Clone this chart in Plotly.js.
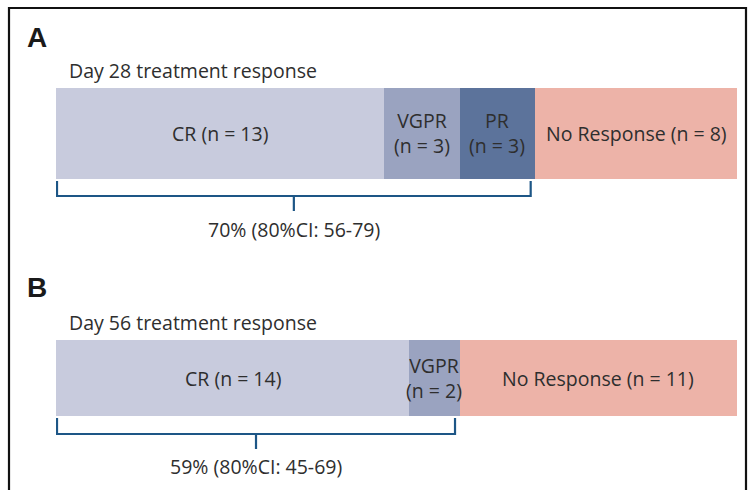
<!DOCTYPE html>
<html><head><meta charset="utf-8">
<script src="https://cdn.plot.ly/plotly-3.0.1.min.js"></script>
<style>html,body{margin:0;padding:0;background:#fff}#chart{width:752px;height:490px}</style>
</head><body><div id="chart"></div>
<script>
// Data
const categoriesA = ["CR", "VGPR", "PR", "No Response"];
const countsA = [13, 3, 3, 8];
const categoriesB = ["CR", "VGPR", "No Response"];
const countsB = [14, 2, 11];
const ciA = "80%CI: 56-79";
const ciB = "80%CI: 45-69";
const titleA = "Day 28 treatment response";
const titleB = "Day 56 treatment response";
const colorMap = {"CR": "#c8cbdd", "VGPR": "#9aa3c0", "PR": "#5c739b", "No Response": "#edb3a8"};

const W = 752, H = 490;
const px = v => v / W, py = v => 1 - v / H;
const FONT = "'Open Sans', sans-serif";
const FS = 19.5;
const TXT = "#2e2e2e";
const total = countsA.reduce((a, b) => a + b, 0);

const traces = [];
const annotations = [];
const shapes = [];

function panel(cats, counts, yax, twoLineCats) {
  let cum = 0;
  cats.forEach((c, i) => {
    traces.push({
      type: "bar", orientation: "h", x: [counts[i]], y: ["r"], yaxis: yax, xaxis: "x",
      marker: {color: colorMap[c], line: {width: 0}}, hoverinfo: "skip", showlegend: false
    });
    const mid = cum + counts[i] / 2;
    const txt = twoLineCats.includes(c) ? c + "<br>(n = " + counts[i] + ")" : c + " (n = " + counts[i] + ")";
    annotations.push({
      xref: "x", yref: yax + " domain", x: mid, y: 0.5, text: txt, showarrow: false,
      font: {family: FONT, size: FS, color: TXT}, align: "center", xanchor: "center", yanchor: "middle"
    });
    cum += counts[i];
  });
}
panel(categoriesA, countsA, "y", ["VGPR", "PR"]);
panel(categoriesB, countsB, "y2", ["VGPR"]);

function bracket(counts, topPx, midPx, botPx, textPx, ci) {
  const resp = counts.slice(0, counts.length - 1).reduce((a, b) => a + b, 0);
  const tot = counts.reduce((a, b) => a + b, 0);
  const x0 = 0.04, x1 = resp - 0.18, xm = (x0 + x1) / 2;
  const line = {color: "#1d5686", width: 2.2};
  shapes.push({type: "path", xref: "x", yref: "paper",
    path: `M ${x0} ${py(topPx)} L ${x0} ${py(midPx)} L ${x1} ${py(midPx)} L ${x1} ${py(topPx)}`, line: line});
  shapes.push({type: "line", xref: "x", yref: "paper", x0: xm, x1: xm, y0: py(midPx), y1: py(botPx), line: line});
  annotations.push({xref: "x", yref: "paper", x: xm, y: py(textPx), text: Math.round(resp / tot * 100) + "% (" + ci + ")",
    showarrow: false, font: {family: FONT, size: FS, color: TXT}, xanchor: "center", yanchor: "middle"});
}
bracket(countsA, 181, 196, 211, 229, ciA);
bracket(countsB, 418, 434, 449, 466, ciB);

// panel letters & titles
annotations.push({xref: "paper", yref: "paper", x: px(25), y: py(37), text: "<b>A</b>", showarrow: false,
  font: {family: "'Liberation Sans', Arial, sans-serif", size: 28, color: "#1a1a1a"}, xanchor: "left", yanchor: "middle"});
annotations.push({xref: "paper", yref: "paper", x: px(25), y: py(287), text: "<b>B</b>", showarrow: false,
  font: {family: "'Liberation Sans', Arial, sans-serif", size: 28, color: "#1a1a1a"}, xanchor: "left", yanchor: "middle"});
annotations.push({xref: "paper", yref: "paper", x: px(67), y: py(71), text: titleA, showarrow: false,
  font: {family: FONT, size: FS, color: TXT}, xanchor: "left", yanchor: "middle"});
annotations.push({xref: "paper", yref: "paper", x: px(67), y: py(322), text: titleB, showarrow: false,
  font: {family: FONT, size: FS, color: TXT}, xanchor: "left", yanchor: "middle"});

// frame
shapes.push({type: "path", xref: "paper", yref: "paper",
  path: `M ${px(9)} ${py(495)} L ${px(9)} ${py(8)} L ${px(746)} ${py(8)} L ${px(746)} ${py(495)}`,
  line: {color: "#111", width: 2.2}});

const layout = {
  width: W, height: H, margin: {l: 0, r: 0, t: 0, b: 0},
  paper_bgcolor: "#fff", plot_bgcolor: "rgba(0,0,0,0)",
  barmode: "stack", bargap: 0,
  xaxis: {domain: [px(56), px(737)], range: [0, total], visible: false, fixedrange: true},
  yaxis: {domain: [py(179), py(88)], visible: false, fixedrange: true},
  yaxis2: {domain: [py(416), py(340)], visible: false, fixedrange: true},
  annotations: annotations, shapes: shapes, showlegend: false
};
Plotly.newPlot("chart", traces, layout, {staticPlot: true, displayModeBar: false});
</script></body></html>
